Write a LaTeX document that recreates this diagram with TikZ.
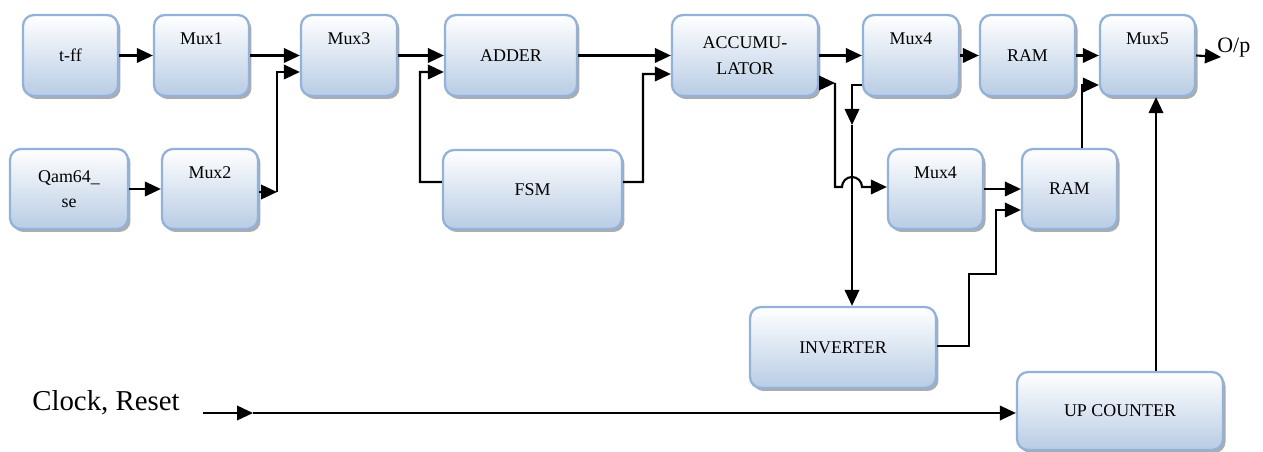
\documentclass[tikz,border=0pt]{standalone}
\usepackage{fontspec}
\setmainfont{Liberation Serif}
\usetikzlibrary{arrows.meta,shadows}
\definecolor{boxedge}{HTML}{92B2D9}
\definecolor{boxfill}{HTML}{B8CCE4}
\begin{document}
\begin{tikzpicture}[x=0.02cm,y=-0.02cm,
  blk/.style={draw=boxedge, line width=1.3pt, rounded corners=0.22cm,
    top color=white, bottom color=boxfill, minimum height=1.62cm, inner sep=0pt,
    font=\fontsize{10.2}{14.5}\selectfont, align=center,
    general shadow={fill=gray!65, shadow xshift=0.05cm, shadow yshift=-0.06cm}},
  toplbl/.style={label={[font=\fontsize{10.2}{14.5}\selectfont, anchor=center,
    label distance=-0.5cm, inner sep=0pt]north:#1}},
  wire/.style={line width=1.2pt, black},
  arr/.style={wire, -{Triangle[length=0.32cm, width=0.29cm]}}]
\useasboundingbox (0,0) rectangle (1263,452);

% blocks
\node[blk, minimum width=1.9cm] (tff) at (70.5,55.5) {t-ff};
\node[blk, minimum width=1.9cm, toplbl=Mux1] (mux1) at (201.5,55.5) {};
\node[blk, minimum width=1.92cm, toplbl=Mux3] (mux3) at (349,55.5) {};
\node[blk, minimum width=2.36cm, minimum height=1.6cm] (qam) at (69,189) {Qam64\_\\se};
\node[blk, minimum width=1.92cm, minimum height=1.6cm, toplbl=Mux2] (mux2) at (210,189) {};
\node[blk, minimum width=2.64cm] (adder) at (511,55.5) {ADDER};
\node[blk, minimum width=3.58cm, minimum height=1.58cm] (fsm) at (532.5,189.5) {FSM};
\node[blk, minimum width=2.92cm] (acc) at (745,55.5) {ACCUMU-\\LATOR};
\node[blk, minimum width=1.92cm, toplbl=Mux4] (mux4a) at (911,55.5) {};
\node[blk, minimum width=1.9cm] (rama) at (1027.5,55.5) {RAM};
\node[blk, minimum width=1.9cm, toplbl=Mux5] (mux5) at (1147.5,55.5) {};
\node[blk, minimum width=1.9cm, minimum height=1.6cm, toplbl=Mux4] (mux4b) at (935.5,189) {};
\node[blk, minimum width=1.9cm, minimum height=1.6cm] (ramb) at (1069.5,189) {RAM};
\node[blk, minimum width=3.72cm] (inv) at (843,347.5) {INVERTER};
\node[blk, minimum width=4.12cm, minimum height=1.56cm] (upc) at (1120,411) {UP COUNTER};

% junction points
\coordinate (m2j) at (277,192);
\coordinate (fj) at (420,72);
\coordinate (fj2) at (643,74);
\coordinate (aj) at (835,83);
\coordinate (hop) at (842,187);
\coordinate (dj) at (852,125);
\coordinate (ij1) at (969,274);
\coordinate (ij2) at (996,274);
\coordinate (opj) at (1221,57);
\coordinate (cs) at (203,413);
\coordinate (cm) at (253,413);

% top row
\draw[arr] (tff.east) -- (mux1.west);
\draw[arr] (mux1.east) -- (mux3.west);
\draw[arr] (qam.east) -- (mux2.west);
\draw[arr] (mux2.east |- m2j) -- (m2j);
\draw[arr] (m2j) |- ([yshift=-0.33cm]mux3.west);
\draw[arr] (mux3.east) -- (adder.west);
\draw[arr] ([yshift=0.15cm]fsm.west) -| (fj) -- ([yshift=-0.33cm]adder.west);
\draw[arr] (adder.east) -- (acc.west);
\draw[arr] ([yshift=0.15cm]fsm.east) -| (fj2) -- ([yshift=-0.37cm]acc.west);
\draw[arr] (acc.east) -- (mux4a.west);
\draw[arr] (mux4a.east) -- (rama.west);
\draw[arr] (rama.east) -- (mux5.west);
\draw[arr] (mux5.east) -- (opj);
\node[anchor=base west, inner sep=0pt, font=\fontsize{12.5}{14}\selectfont] (op) at (1217,53) {O/p};

% lower branch
\draw[arr] (acc.east |- aj) -- (aj);
\draw[arr] (aj) |- (hop) arc[start angle=180, end angle=0, radius=0.2cm] -- (mux4b.west |- hop);
\draw[arr] ([yshift=-0.59cm]mux4a.west) -| (dj);
\draw[arr] (dj) -- (dj |- inv.north);
\draw[arr] (mux4b.east) -- (ramb.west);
\draw[arr] ([yshift=0.03cm]inv.east) -| (ij1) -- (ij2) |- ([yshift=-0.42cm]ramb.west);
\draw[arr] ([xshift=0.25cm]ramb.north) |- ([yshift=-0.59cm]mux5.west);
\draw[arr] ([xshift=0.72cm]upc.north) -- ([xshift=0.72cm]upc.north |- mux5.south);

% clock / reset input
\node[anchor=base west, inner sep=0pt, font=\fontsize{16.4}{18}\selectfont] (clk) at (32,410) {Clock, Reset};
\draw[arr] (cs) -- (cm);
\draw[arr] (cm) -- (upc.west |- cm);
\end{tikzpicture}
\end{document}
